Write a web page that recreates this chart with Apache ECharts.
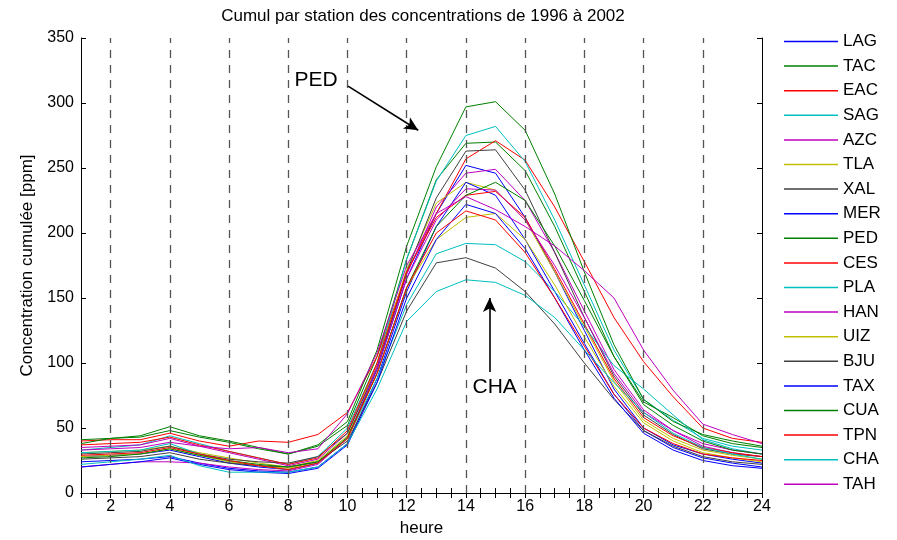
<!DOCTYPE html>
<html><head><meta charset="utf-8">
<script src="https://cdn.jsdelivr.net/npm/echarts@6/dist/echarts.min.js"></script>
<style>html,body{margin:0;padding:0;background:#fff}#c{width:897px;height:540px}</style>
</head><body><div id="c"></div>
<script>
var hours = [1,2,3,4,5,6,7,8,9,10,11,12,13,14,15,16,17,18,19,20,21,22,23,24];
var stations = ['LAG','TAC','EAC','SAG','AZC','TLA','XAL','MER','PED','CES','PLA','HAN','UIZ','BJU','TAX','CUA','TPN','CHA','TAH'];
var LAG = [28,29,30,33,28,23,20,18,23,42,95,165,215,252,246,212,170,125,80,50,37,30,26,23];
var TAC = [41,42,43,48,43,39,34,30,36,52,105,180,241,269,270,248,205,155,105,70,58,44,38,35];
var EAC = [40,41,41,46,40,36,40,39,45,62,105,170,215,257,271,256,220,178,135,101,74,50,42,39];
var SAG = [33,35,37,44,38,32,27,22,28,50,100,180,240,275,282,255,210,160,110,72,56,42,36,33];
var AZC = [35,36,37,42,36,31,26,21,26,46,98,168,220,246,249,225,185,140,95,64,48,36,31,28];
var TLA = [31,32,33,36,31,27,23,20,25,44,100,172,223,239,233,210,170,128,86,56,42,33,29,26];
var XAL = [30,31,32,36,30,26,24,23,28,46,96,170,227,263,264,233,185,135,90,60,45,34,30,28];
var MER = [24,25,26,28,23,19,17,16,20,38,88,155,205,239,229,195,155,115,76,48,35,27,23,20];
var PED = [38,42,44,51,44,40,35,30,37,55,110,190,251,297,301,279,230,170,114,72,55,45,40,36];
var CES = [37,38,39,43,37,32,27,22,27,48,100,170,212,229,232,212,172,130,88,58,44,35,31,28];
var PLA = [31,32,33,38,30,24,21,18,23,42,88,145,184,192,191,178,155,128,98,80,60,41,34,30];
var HAN = [20,22,24,24,23,20,18,17,22,42,96,165,210,234,233,210,175,135,92,62,48,38,33,30];
var UIZ = [28,29,30,34,29,24,21,19,24,42,92,158,195,212,215,195,160,120,82,54,40,31,27,24];
var BJU = [26,27,28,31,26,23,21,20,24,40,85,140,177,181,173,155,130,100,72,48,36,28,24,22];
var TAX = [20,22,24,27,22,18,16,15,19,37,85,150,195,222,215,188,150,110,73,46,33,25,21,19];
var CUA = [27,28,30,34,29,25,22,20,24,43,92,158,205,229,239,225,190,148,105,68,52,40,33,30];
var TPN = [29,30,31,35,30,25,21,18,23,42,92,158,200,217,210,185,150,113,76,50,38,30,27,25];
var CHA = [22,24,26,29,21,16,16,16,20,38,80,132,155,164,162,152,135,110,85,62,46,35,30,26];
var TAH = [33,34,35,39,36,34,35,31,34,61,108,175,215,228,218,205,190,171,150,110,79,53,45,38];
var values = [LAG,TAC,EAC,SAG,AZC,TLA,XAL,MER,PED,CES,PLA,HAN,UIZ,BJU,TAX,CUA,TPN,CHA,TAH];
var colors = ['#0000ff','#008000','#ff0000','#00bfbf','#bf00bf','#bfbf00','#404040'];
var evenHours = [2,4,6,8,10,12,14,16,18,20,22];

var font = 'Liberation Sans, Arial, sans-serif';
var series = stations.map(function(name, i){
  return {
    name: name, type: 'line', symbol: 'none', smooth: false,
    lineStyle: {width: 1, color: colors[i % 7]}, itemStyle: {color: colors[i % 7]},
    data: hours.map(function(h, j){ return [h, values[i][j]]; }),
    z: 3
  };
});
series.push({
  name: 'annot', type: 'line', data: [], symbol: 'none', silent: true, z: 2,
  markLine: {
    silent: true, symbol: 'none', label: {show: false},
    lineStyle: {color: '#555', width: 1.3, type: [8, 7]},
    data: evenHours.map(function(h){ return {xAxis: h}; })
  }
});
series.push({
  name: 'arrows', type: 'line', data: [], symbol: 'none', silent: true, z: 5,
  markLine: {
    silent: true, symbol: ['none', 'arrow'], symbolSize: [10, 14], label: {show: false},
    lineStyle: {color: '#000', width: 1.6, type: 'solid'},
    data: [
      [{coord: [10.02, 313]}, {coord: [12.39, 279]}],
      [{coord: [14.8, 93]}, {coord: [14.8, 150]}]
    ]
  },
  markPoint: {
    symbol: 'circle', symbolSize: 0, silent: true,
    label: {show: true, position: 'inside', color: '#000', fontSize: 21, fontFamily: font,
            formatter: function(p){ return p.name; }},
    data: [
      {name: 'PED', coord: [8.94, 317.5]},
      {name: 'CHA', coord: [14.97, 81.5]}
    ]
  }
});

var xCommon = {
  type: 'value', min: 1, max: 24, interval: 1,
  axisLine: {show: true, lineStyle: {color: '#000', width: 1}},
  axisTick: {show: true, inside: true, length: 5, lineStyle: {color: '#000'}},
  minorTick: {show: true, splitNumber: 2, length: 5, lineStyle: {color: '#000'}},
  splitLine: {show: false}
};
var yCommon = {
  type: 'value', min: 0, max: 350, interval: 50,
  axisLine: {show: true, lineStyle: {color: '#000', width: 1}},
  axisTick: {show: true, inside: true, length: 5, lineStyle: {color: '#000'}},
  splitLine: {show: false}
};

var chart = echarts.init(document.getElementById('c'), null, {renderer: 'canvas'});
chart.setOption({
  animation: false,
  backgroundColor: '#fff',
  title: {text: 'Cumul par station des concentrations de 1996 à 2002', left: 418, textAlign: 'center', top: 3,
          textStyle: {fontSize: 17, fontWeight: 'normal', color: '#000', fontFamily: font}},
  grid: {left: 81, right: 135, top: 38, bottom: 47, containLabel: false, outerBoundsMode: 'none'},
  legend: {
    data: stations, icon: 'rect',
    orient: 'vertical', left: 779, top: 28,
    itemWidth: 54, itemHeight: 1.5, itemGap: 7.6,
    itemStyle: {borderWidth: 0},
    textStyle: {fontSize: 17, color: '#000', fontFamily: font},
    selectedMode: false
  },
  xAxis: [
    Object.assign({}, xCommon, {
      position: 'bottom', name: 'heure', nameLocation: 'middle', nameGap: 27,
      nameTextStyle: {fontSize: 17, color: '#000', fontFamily: font},
      axisLabel: {show: true, color: '#000', fontSize: 16, fontFamily: font, margin: 6,
                  formatter: function(v){ return v % 2 === 0 ? String(v) : ''; }}
    }),
    Object.assign({}, xCommon, {position: 'top', axisLabel: {show: false}})
  ],
  yAxis: [
    Object.assign({}, yCommon, {
      position: 'left', name: 'Concentration cumulée [ppm]', nameLocation: 'middle', nameGap: 45,
      nameTextStyle: {fontSize: 17, color: '#000', fontFamily: font},
      axisLabel: {show: true, color: '#000', fontSize: 16, fontFamily: font, margin: 7}
    }),
    Object.assign({}, yCommon, {position: 'right', axisLabel: {show: false}})
  ],
  series: series
});
</script></body></html>
